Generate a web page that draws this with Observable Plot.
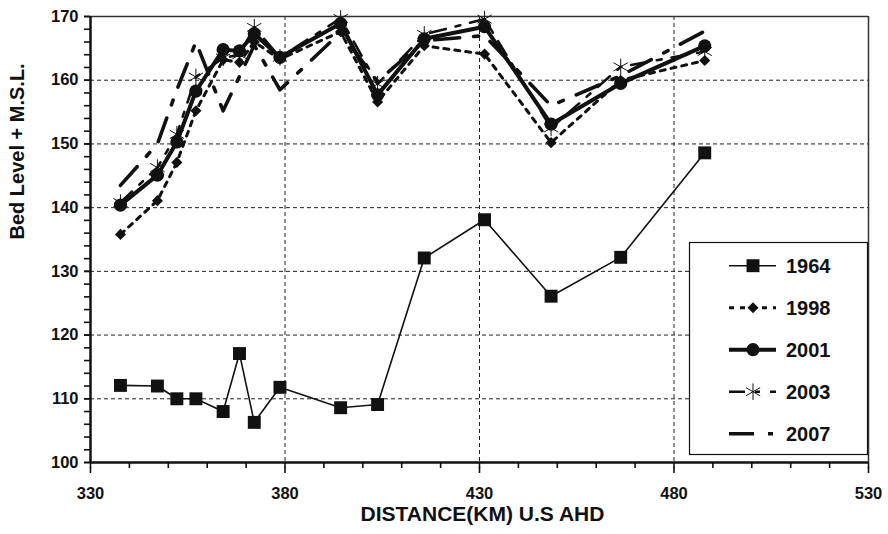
<!DOCTYPE html>
<html><head><meta charset="utf-8">
<script src="https://cdn.jsdelivr.net/npm/d3@7"></script>
<script src="https://cdn.jsdelivr.net/npm/@observablehq/plot@0.6"></script>
<style>body{margin:0;background:#fff}</style>
</head><body><div id="chart"></div>
<script>
// Distances (km U/S of AHD) of the surveyed sections
const distance = [337.7, 347.2, 352.2, 357.1, 364.1, 368.3, 372.1, 378.7, 394.3, 403.8, 415.8, 431.3, 448.4, 466.3, 487.9];
const distance2007 = [337.7, 347.2, 352.2, 357.1, 364.1, 372.1, 378.7, 394.3, 403.8, 415.8, 431.3, 448.4, 466.3, 487.9];
// Bed levels (+ M.S.L.)
const bed1964 = [112.1, 112.0, 110.0, 110.0, 108.0, 117.1, 106.3, 111.8, 108.6, 109.1, 132.1, 138.1, 126.1, 132.2, 148.6];
const bed1998 = [135.8, 141.1, 147.1, 155.2, 163.2, 162.8, 166.0, 163.3, 167.6, 156.6, 165.4, 164.1, 150.2, 160.0, 163.1];
const bed2001 = [140.4, 145.1, 150.3, 158.3, 164.8, 164.6, 167.3, 163.6, 168.9, 157.7, 166.5, 168.4, 153.1, 159.5, 165.4];
const bed2003 = [140.8, 146.3, 151.5, 160.5, 163.5, 164.0, 168.3, 163.6, 169.7, 159.4, 167.2, 169.6, 152.5, 162.1, 164.5];
const bed2007 = [143.5, 150.0, 158.5, 166.0, 155.2, 165.5, 158.5, 167.5, 159.8, 166.2, 167.0, 156.0, 160.7, 167.7];
const years = ["1964", "1998", "2001", "2003", "2007"];
const xMajor = [330, 380, 430, 480, 530];
const yMajor = [100, 110, 120, 130, 140, 150, 160, 170];
const xTitle = "DISTANCE(KM) U.S AHD";
const yTitle = "Bed Level + M.S.L.";

const seriesData = {
  "1964": distance.map((d, i) => ({x: d, y: bed1964[i]})),
  "1998": distance.map((d, i) => ({x: d, y: bed1998[i]})),
  "2001": distance.map((d, i) => ({x: d, y: bed2001[i]})),
  "2003": distance.map((d, i) => ({x: d, y: bed2003[i]})),
  "2007": distance2007.map((d, i) => ({x: d, y: bed2007[i]}))
};

const INK = "#111";
const FONT = '"Liberation Sans", Arial, Helvetica, sans-serif';
const style = {
  "1964": {w: 1.6, dash: null, symbol: "square", r: 7.3, filled: true},
  "1998": {w: 3, dash: "5,6", symbol: "diamond2", r: 5.0, filled: true},
  "2001": {w: 4, dash: null, symbol: "circle", r: 6.6, filled: true},
  "2003": {w: 2.6, dash: "16,10,5,10", symbol: "asterisk", r: 7.8, filled: false},
  "2007": {w: 3.6, dash: "25,14,5,14", symbol: null, r: 0, filled: false}
};

const seriesMarks = years.flatMap(yr => {
  const s = style[yr];
  const m = [Plot.line(seriesData[yr], {x: "x", y: "y", stroke: INK, strokeWidth: s.w, strokeDasharray: s.dash, strokeLinejoin: "round"})];
  if (s.symbol) {
    m.push(s.filled
      ? Plot.dot(seriesData[yr], {x: "x", y: "y", symbol: s.symbol, r: s.r, fill: INK, stroke: "none"})
      : Plot.dot(seriesData[yr], {x: "x", y: "y", symbol: s.symbol, r: s.r, stroke: INK, strokeWidth: 1}));
  }
  return m;
});

const gridStyle = {stroke: "#222", strokeOpacity: 1, strokeWidth: 1, strokeDasharray: "4,3"};

const plot = Plot.plot({
  width: 888, height: 534,
  marginLeft: 90, marginRight: 20, marginTop: 16, marginBottom: 72,
  x: {domain: [330, 530]},
  y: {domain: [100, 170]},
  style: {fontFamily: FONT, fontWeight: "bold", fontSize: "16px", color: INK, background: "#fff"},
  marks: [
    Plot.gridY([110, 120, 130, 140, 150, 160], gridStyle),
    Plot.gridX([380, 430, 480], gridStyle),
    Plot.ruleY([170], {stroke: "#333", strokeWidth: 1.5}),
    Plot.ruleX([530], {stroke: "#333", strokeWidth: 1.5}),
    Plot.axisX(d3.range(330, 531, 10), {tickSize: 6, strokeWidth: 1.6, tickFormat: () => "", label: null}),
    Plot.axisX(xMajor, {tickSize: 6, strokeWidth: 1.6, tickPadding: 14, dy: 5, tickFormat: d => String(d), label: null, fontSize: 16.5}),
    Plot.axisY(d3.range(100, 171, 2), {tickSize: 6, strokeWidth: 1.6, tickFormat: () => "", label: null}),
    Plot.axisY(yMajor, {tickSize: 6, strokeWidth: 1.6, tickPadding: 6, tickFormat: d => String(d), label: null, fontSize: 16.5}),
    Plot.ruleX([330], {stroke: INK, strokeWidth: 2.5}),
    Plot.ruleY([100], {stroke: INK, strokeWidth: 2.5}),
    ...seriesMarks,
    Plot.text([yTitle], {frameAnchor: "left", dx: -73, rotate: -90, fontSize: 20, fontWeight: "bold", fill: INK}),
    Plot.text([xTitle], {frameAnchor: "bottom", dx: 3, dy: 58, fontSize: 21, fontWeight: "bold", fill: INK})
  ]
});

document.getElementById("chart").appendChild(plot);

// Legend box inside the plot area (pixel layout)
const svg = d3.select(plot);
const lg = svg.append("g").attr("font-family", FONT).attr("font-weight", "bold").attr("font-size", 20).attr("text-anchor", "start");
lg.append("rect").attr("x", 689.5).attr("y", 242.5).attr("width", 178).attr("height", 212)
  .attr("fill", "#fff").attr("stroke", INK).attr("stroke-width", 1.2);
const symType = {square: d3.symbolSquare, diamond2: d3.symbolDiamond2, circle: d3.symbolCircle, asterisk: d3.symbolAsterisk};
years.forEach((yr, i) => {
  const s = style[yr];
  const cy = 265.7 + i * 42;
  lg.append("line").attr("x1", 729).attr("x2", 776).attr("y1", cy).attr("y2", cy)
    .attr("stroke", INK).attr("stroke-width", s.w).attr("stroke-dasharray", s.dash);
  if (s.symbol) {
    const p = d3.symbol(symType[s.symbol], Math.PI * s.r * s.r)();
    const el = lg.append("path").attr("d", p).attr("transform", `translate(753,${cy})`);
    if (s.filled) el.attr("fill", INK); else el.attr("fill", "none").attr("stroke", INK).attr("stroke-width", 1);
  }
  lg.append("text").attr("x", 786).attr("y", cy).attr("dy", "0.36em").attr("text-anchor", "start").attr("fill", INK).text(yr);
});
</script>
</body></html>
